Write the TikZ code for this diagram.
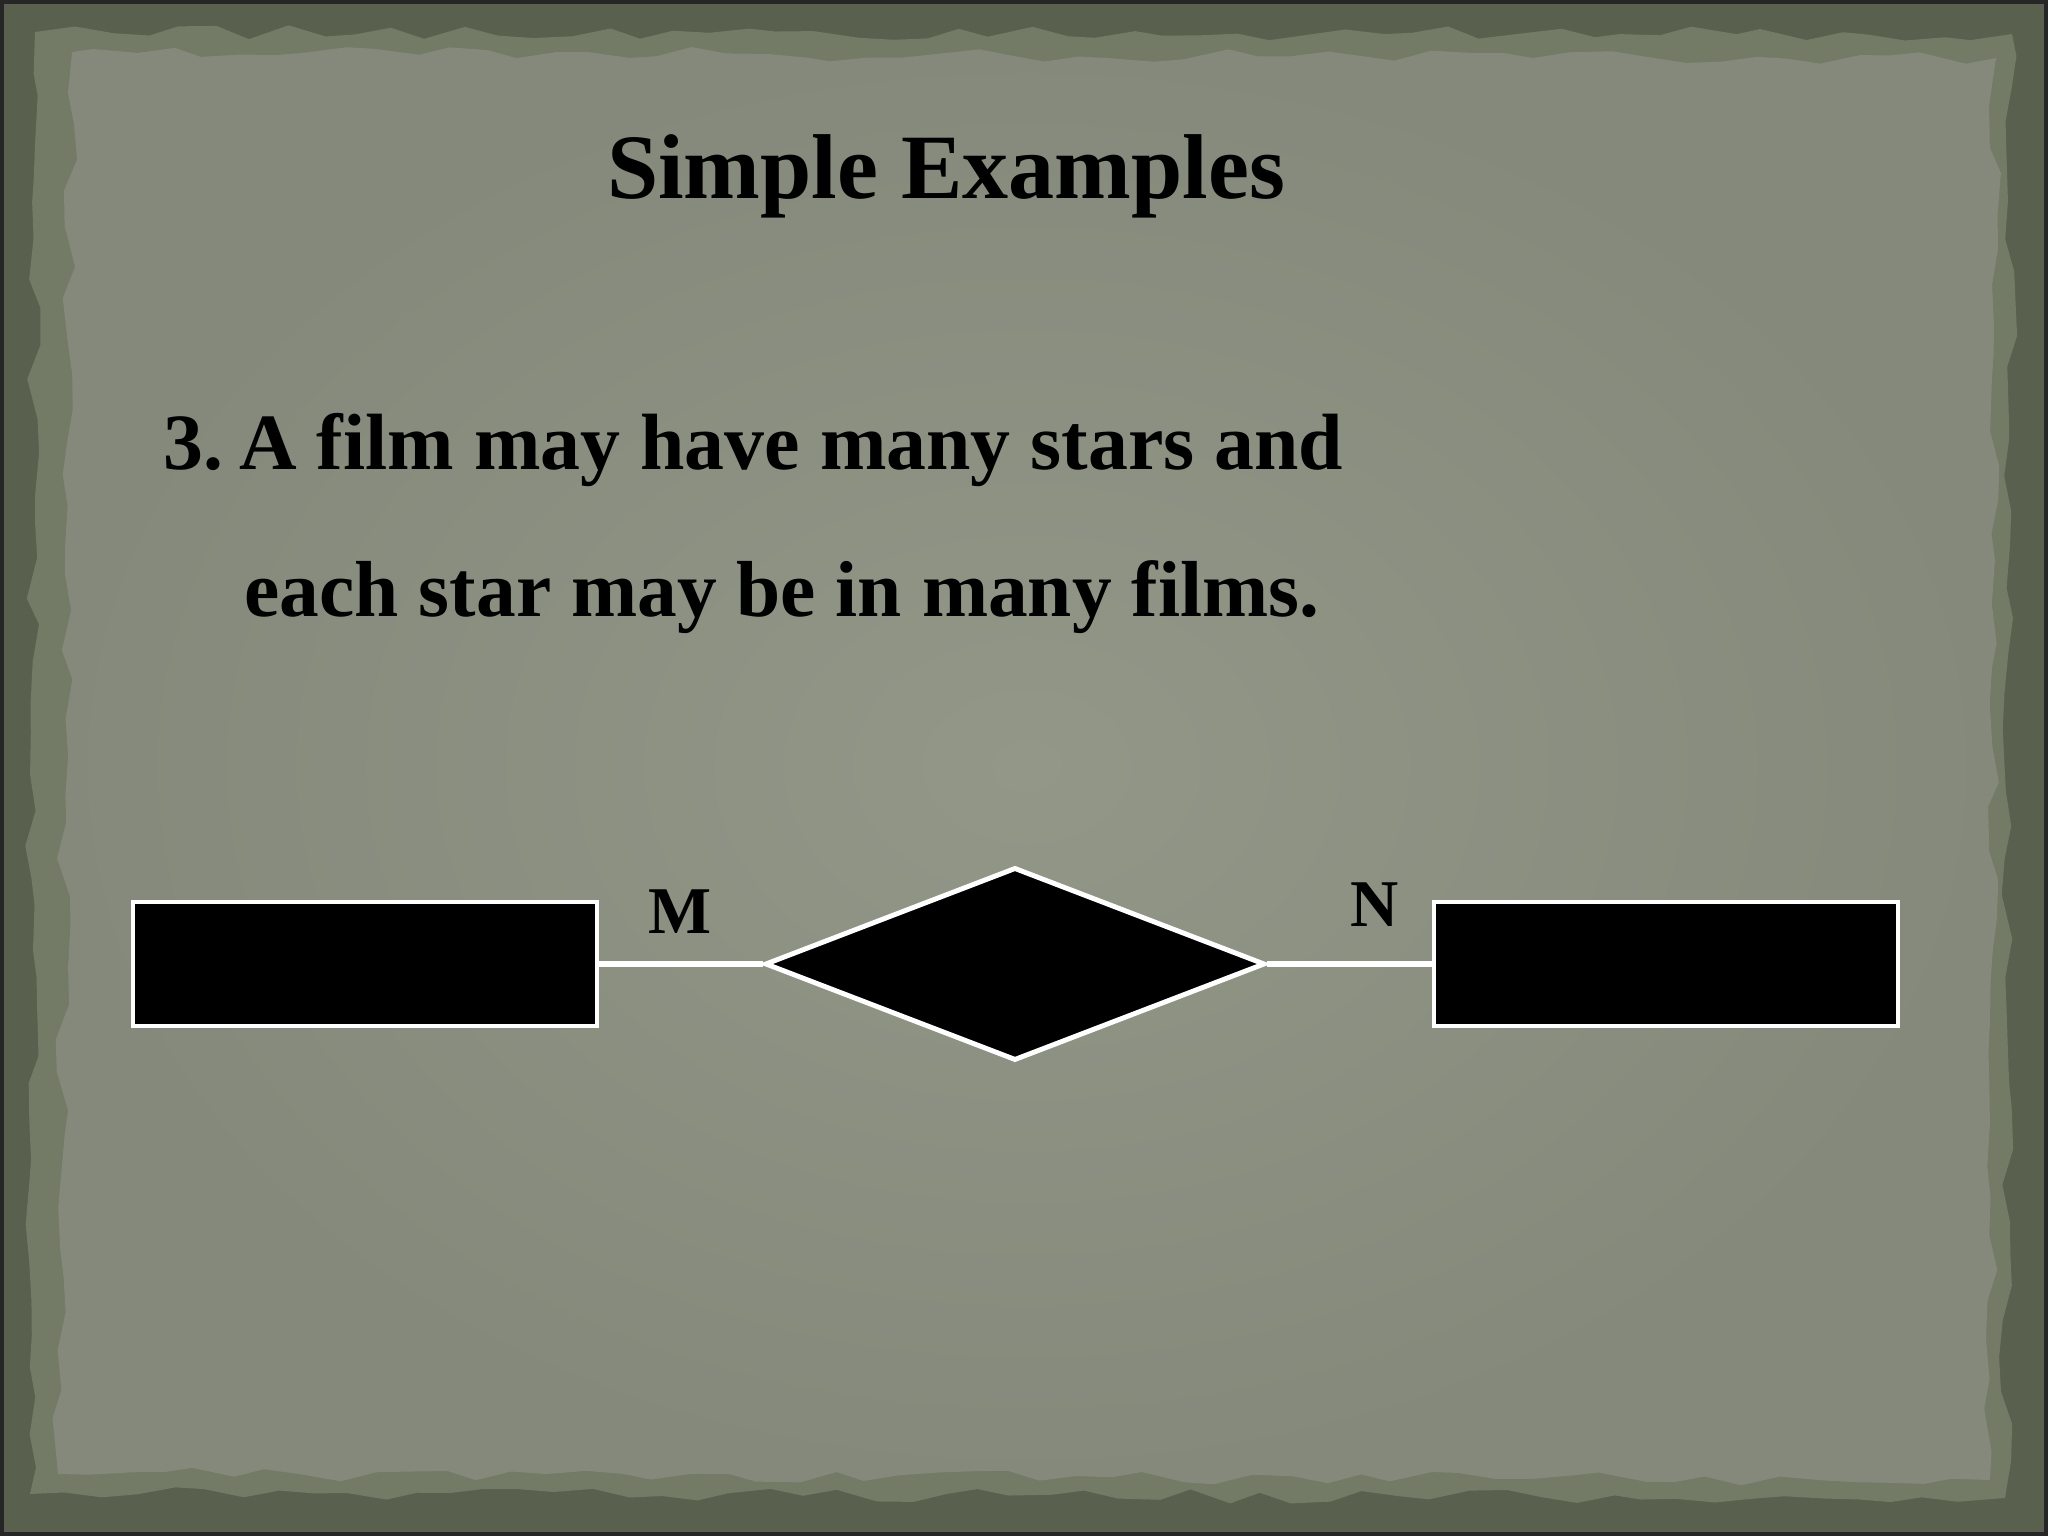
\documentclass[tikz,border=0pt]{standalone}
\usepackage{fontspec}
\setmainfont{Liberation Serif}
\usetikzlibrary{positioning,calc,shapes.geometric,decorations.pathmorphing}
\definecolor{frame}{HTML}{5A604E}
\definecolor{band}{HTML}{737A66}
\definecolor{paperin}{HTML}{939788}
\definecolor{paperout}{HTML}{84897B}
\tikzset{
	entity/.style={
		rectangle,
		draw=white, fill=black,
		line width=1.3pt,
		minimum width=4.64cm,
		minimum height=1.24cm,
		inner sep=0pt,
	},
	relation/.style={
		diamond,
		draw=white, fill=black,
		line width=1.4pt,
		minimum width=5cm,
		minimum height=1.93cm,
		inner sep=0pt,
	},
	link/.style={draw=white, line width=1.6pt},
	card/.style={font=\bfseries\fontsize{19}{22}\selectfont, anchor=base},
	torn/.style={decorate, decoration={random steps, segment length=10pt, amplitude=2pt}},
}

\begin{document}
\begin{tikzpicture}

	% frame and paper
	\fill[frame] (0,0) rectangle (20.48,15.36);
	\draw[black!85, line width=1pt] (0.02,0.02) rectangle (20.46,15.34);
	\pgfmathsetseed{7}
	\fill[band, torn] (0.30,0.42) -- (20.05,0.38) -- (20.12,15.02) -- (0.35,15.04) -- cycle;
	\shade[inner color=paperin, outer color=paperout, torn]
		(0.58,0.62) -- (19.90,0.56) -- (19.96,14.78) -- (0.72,14.84) -- cycle;

	% title and statement
	\node[font=\bfseries\fontsize{26.2}{30}\selectfont, anchor=base] (title) at (9.46,13.37) {Simple Examples};
	\node[font=\bfseries\fontsize{22.7}{27}\selectfont, anchor=base west, inner sep=0pt] (line1) at (1.63,10.66)
		{3.\kern-0.05em\ A film may have many stars and};
	\node[font=\bfseries\fontsize{22.6}{27}\selectfont, anchor=base west, inner sep=0pt] (line2) at (2.44,9.19)
		{each star may be in many films.};

	% entities and relationship
	\node[entity] (film) at (3.65,5.72) {};
	\node[relation] (stars) at (10.15,5.72) {};
	\node[entity] (star) at (16.66,5.72) {};

	% connectors
	\draw[link] (film.east) -- (stars.west);
	\draw[link] (stars.east) -- (star.west);

	% cardinalities
	\node[card] (m) at (6.80,6.02) {M};
	\node[card] (n) at (13.75,6.09) {N};

\end{tikzpicture}
\end{document}
